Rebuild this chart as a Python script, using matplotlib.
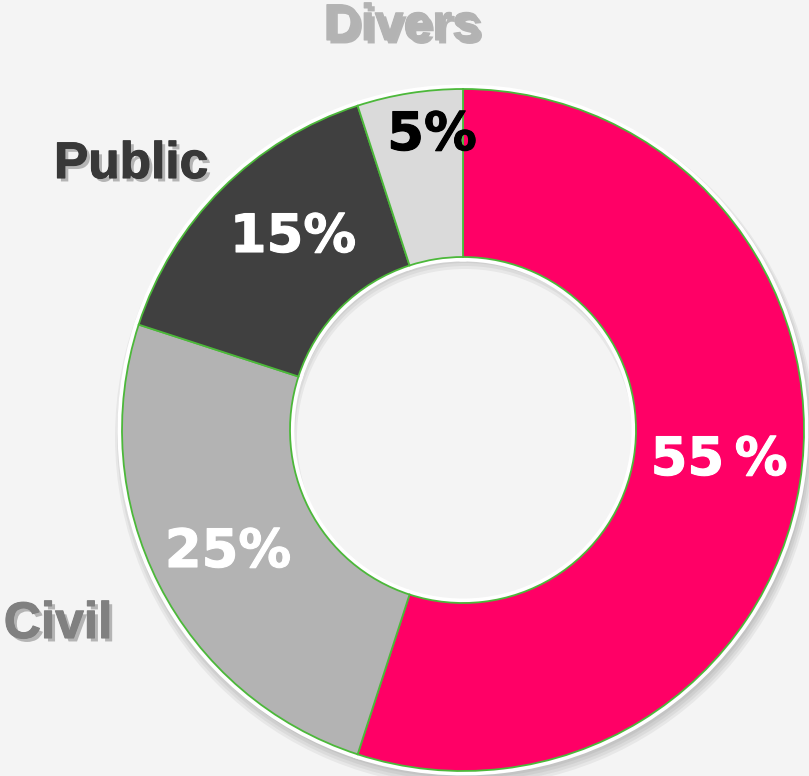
import matplotlib.pyplot as plt
import matplotlib.patheffects as pe
from matplotlib.patches import Wedge

# data
categories = ["Civil-pink", "Civil", "Public", "Divers"]
values = [55, 25, 15, 5]
pct_labels = ["55\u2009%", "25%", "15%", "5%"]
slice_colors = ["#FF0066", "#B3B3B3", "#404040", "#DADADA"]
pct_colors = ["white", "white", "white", "black"]

outer_names = ["Divers", "Public", "Civil"]
outer_colors = ["#B3B3B3", "#383838", "#808080"]

W, H = 809, 776
cx, cy = 463, H - 430          # donut centre (pixels, y up)
R, ring = 342, 170

# text positions in pixels (x centre, baseline y from top)
pct_xy = [(719, 475), (228, 567), (293, 252), (432, 150)]
outer_xy = [(402, 40), (131, 178), (58, 638)]

fig = plt.figure(figsize=(W / 100, H / 100), dpi=100, facecolor="#F4F4F4")
ax = fig.add_axes([0, 0, 1, 1])
ax.set_facecolor("#F4F4F4")

# soft shadow under the ring
for i in range(4):
    ax.add_patch(Wedge((cx + 2, cy - 4 - i), R + 2 + 2 * i, 0, 360,
                       width=ring + 4 * i, facecolor="black", alpha=0.05,
                       edgecolor="none"))

# white rim, then green outline on top
ax.pie(values, colors=slice_colors, startangle=90, counterclock=False,
       radius=R, center=(cx, cy),
       wedgeprops=dict(width=ring, edgecolor="white", linewidth=5))
ax.pie(values, colors=slice_colors, startangle=90, counterclock=False,
       radius=R - 1, center=(cx, cy),
       wedgeprops=dict(width=ring - 2, edgecolor="#4CB83A", linewidth=1.3))

for lab, (x, y), c in zip(pct_labels, pct_xy, pct_colors):
    ax.text(x, H - y, lab, ha="center", va="baseline", color=c,
            fontsize=38, fontweight="bold", family="DejaVu Sans",
            path_effects=[pe.withStroke(linewidth=0.8, foreground=c)])

for lab, (x, y), c in zip(outer_names, outer_xy, outer_colors):
    shadow = [pe.SimplePatchShadow(offset=(2.5, -2.5), shadow_rgbFace="#555555",
                                   alpha=0.4),
              pe.withStroke(linewidth=0.8, foreground=c)]
    ax.text(x, H - y, lab, ha="center", va="baseline", color=c,
            fontsize=37, fontweight="bold", family="Liberation Sans",
            path_effects=shadow)

ax.set_xlim(0, W)
ax.set_ylim(0, H)
ax.set_aspect("equal")
ax.axis("off")

fig.savefig("out.png", dpi=100, facecolor=fig.get_facecolor())
